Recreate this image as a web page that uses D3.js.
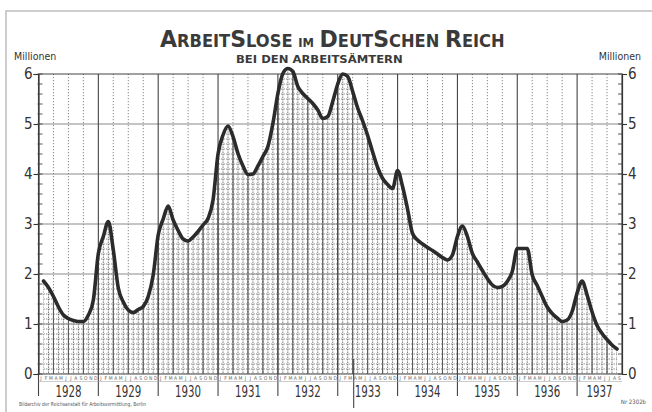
<!DOCTYPE html>
<html><head><meta charset="utf-8">
<script src="https://cdn.jsdelivr.net/npm/d3@7"></script>
<style>body{margin:0;background:#fff}</style>
</head><body>
<svg id="c" width="652" height="412"></svg>
<script>
// ---- data ----
const years = [1928,1929,1930,1931,1932,1933,1934,1935,1936,1937];
const monthInitials = ["J","F","M","A","M","J","J","A","S","O","N","D"];
const yTicks = [0,1,2,3,4,5,6];
const yMinorTicks = d3.range(0,6.01,0.2);
// Arbeitslose (Millionen), monthly from Jan 1928 to Aug 1937, month-end
const unemployed = [
  1.86,1.73,1.55,1.34,1.18,1.11,1.07,1.05,1.05,1.18,1.48,2.41, // 1928
  2.75,3.05,2.48,1.72,1.44,1.28,1.23,1.29,1.35,1.55,1.98,2.78, // 1929
  3.10,3.36,3.08,2.87,2.70,2.66,2.74,2.85,2.98,3.11,3.48,4.40, // 1930
  4.78,4.96,4.75,4.41,4.16,3.99,4.00,4.16,4.35,4.55,5.01,5.61, // 1931
  6.01,6.11,6.05,5.75,5.61,5.51,5.41,5.28,5.11,5.15,5.45,5.80, // 1932
  6.00,5.95,5.65,5.32,5.06,4.77,4.44,4.13,3.91,3.79,3.71,4.07, // 1933
  3.75,3.30,2.81,2.68,2.60,2.53,2.47,2.40,2.33,2.28,2.38,2.75, // 1934
  2.96,2.75,2.41,2.24,2.07,1.91,1.78,1.73,1.75,1.85,2.05,2.51, // 1935
  2.51,2.51,1.98,1.77,1.55,1.34,1.21,1.12,1.05,1.08,1.25,1.62, // 1936
  1.86,1.58,1.24,0.97,0.81,0.69,0.58,0.50                      // 1937
];
const axisMonths = 117;      // Jan 1928 .. Sep 1937
const markerMonth = 63.2;    // long marker line 1933
const titleParts = [["A",1],["RBEIT",0],["S",1],["LOSE",0],[" ",0],["IM",2],[" ",0],["D",1],["EUT",0],["S",1],["CHEN",0],[" ",0],["R",1],["EICH",0]];
const subtitle = "BEI DEN ARBEITSÄMTERN";
const unitLabel = "Millionen";
const sourceText = "Bildarchiv der Reichsanstalt für Arbeitsvermittlung, Berlin";
const numberText = "Nr 2302b";

// ---- layout ----
const svg = d3.select("#c");
const x = d3.scaleLinear().domain([0, axisMonths]).range([38.5, 622]);
const y = d3.scaleLinear().domain([0, 6]).range([374, 74]);
const ink = "#2b2b2b";
const fontNum = "'DejaVu Sans Condensed','Liberation Sans Narrow','DejaVu Sans',sans-serif";

svg.append("rect").attr("width",652).attr("height",412).attr("fill","#fff");
// frame
svg.append("path").attr("d","M6,412V11H652").attr("fill","none").attr("stroke","#bdbdbd").attr("stroke-width",1.5);

const pts = unemployed.map((v,i)=>({m:i+1,v}));
const curve = d3.curveMonotoneX;
const area = d3.area().x(d=>x(d.m)).y0(y(0)).y1(d=>y(d.v)).curve(curve);
const line = d3.line().x(d=>x(d.m)).y(d=>y(d.v)).curve(curve);

// clip for fill
svg.append("clipPath").attr("id","fillclip").append("path").attr("d",area(pts));

// quarter dotted lines (background grid)
const months = d3.range(0, axisMonths+1);
svg.append("g").selectAll("line").data(months.filter(m=>m%3===0 && m%12!==0 && m<axisMonths)).join("line")
  .attr("x1",d=>x(d)).attr("x2",d=>x(d)).attr("y1",y(6)).attr("y2",y(0))
  .attr("stroke","#777").attr("stroke-width",0.9).attr("stroke-dasharray","1.2,1.8");

// fill texture (clipped)
const fg = svg.append("g").attr("clip-path","url(#fillclip)");
fg.selectAll("line.vm").data(months).join("line").attr("class","vm")
  .attr("x1",d=>x(d)).attr("x2",d=>x(d)).attr("y1",y(6.2)).attr("y2",y(0))
  .attr("stroke","#6e6e6e").attr("stroke-width",1).attr("stroke-dasharray","1.4,1.1");
fg.selectAll("line.vq").data(months.filter(m=>m%3===0)).join("line").attr("class","vq")
  .attr("x1",d=>x(d)).attr("x2",d=>x(d)).attr("y1",y(6.2)).attr("y2",y(0))
  .attr("stroke","#555").attr("stroke-width",1);
fg.selectAll("line.hm").data(d3.range(0,6.2,0.1)).join("line").attr("class","hm")
  .attr("x1",x(0)).attr("x2",x(axisMonths)).attr("y1",d=>y(d)).attr("y2",d=>y(d))
  .attr("stroke","#7a7a7a").attr("stroke-width",0.9).attr("stroke-dasharray","1.4,1.1");

// horizontal integer grid
svg.append("g").selectAll("line").data(yTicks).join("line")
  .attr("x1",x(0)).attr("x2",x(axisMonths)).attr("y1",d=>y(d)).attr("y2",d=>y(d))
  .attr("stroke",d=>(d===0||d===6)?"#444":"#8a8a8a").attr("stroke-width",d=>(d===0||d===6)?1.2:1.1);

// year boundaries
const yearStarts = years.map((yr,i)=>i*12);
svg.append("g").selectAll("line").data(yearStarts.concat([axisMonths])).join("line")
  .attr("x1",d=>x(d)).attr("x2",d=>x(d)).attr("y1",y(6)).attr("y2",y(0))
  .attr("stroke","#444").attr("stroke-width",1.1);
// year separator ticks below axis
svg.append("g").selectAll("line").data(yearStarts).join("line")
  .attr("x1",d=>x(d)).attr("x2",d=>x(d)).attr("y1",y(0)).attr("y2",y(0)+22)
  .attr("stroke","#444").attr("stroke-width",1.1);
// marker line 1933
svg.append("line").attr("x1",x(markerMonth)).attr("x2",x(markerMonth)).attr("y1",y(0.3)).attr("y2",y(0)+34)
  .attr("stroke","#444").attr("stroke-width",1.1);

// month strip
const ms = svg.append("g");
ms.append("line").attr("x1",x(0)).attr("x2",x(axisMonths)).attr("y1",y(0)+7.5).attr("y2",y(0)+7.5).attr("stroke","#aaa").attr("stroke-width",0.6);
ms.selectAll("text").data(d3.range(0,axisMonths)).join("text")
  .attr("x",d=>x(d+0.5)).attr("y",y(0)+6.2).attr("text-anchor","middle")
  .attr("font-size",5).attr("font-family",fontNum).attr("fill","#666")
  .text(d=>monthInitials[d%12]);

// year labels
svg.append("g").selectAll("text").data(years).join("text")
  .attr("x",(d,i)=>x(Math.min(i*12+6, (i*12+axisMonths)/2))).attr("y",397)
  .attr("text-anchor","middle").attr("font-size",15).attr("font-family",fontNum).attr("fill","#333")
  .attr("textLength",26).attr("lengthAdjust","spacingAndGlyphs")
  .text(d=>d);

// y axes
const axL = d3.axisLeft(y).tickValues(yTicks).tickSize(5).tickPadding(1).tickFormat(d3.format("d"));
const axR = d3.axisRight(y).tickValues(yTicks).tickSize(5).tickPadding(1).tickFormat(d3.format("d"));
const gL = svg.append("g").attr("transform",`translate(${x(0)},0)`).call(axL);
const gR = svg.append("g").attr("transform",`translate(${x(axisMonths)},0)`).call(axR);
[gL,gR].forEach(g=>{
  g.select(".domain").attr("stroke","#333").attr("stroke-width",1.2);
  g.selectAll(".tick line").attr("stroke","#333").attr("stroke-width",1.1);
  g.selectAll(".tick text").attr("font-size",15).attr("font-family",fontNum).attr("fill","#333");
});
// minor ticks
svg.append("g").selectAll("line").data(yMinorTicks).join("line")
  .attr("x1",x(0)-1).attr("x2",x(0)+4).attr("y1",d=>y(d)).attr("y2",d=>y(d)).attr("stroke","#444").attr("stroke-width",0.9);
svg.append("g").selectAll("line").data(yMinorTicks).join("line")
  .attr("x1",x(axisMonths)-4).attr("x2",x(axisMonths)+1).attr("y1",d=>y(d)).attr("y2",d=>y(d)).attr("stroke","#444").attr("stroke-width",0.9);

// curve
svg.append("path").attr("d",line(pts)).attr("fill","none").attr("stroke",ink)
  .attr("stroke-width",3.6).attr("stroke-linejoin","round").attr("stroke-linecap","round");

// unit labels
svg.append("text").attr("x",14).attr("y",60).attr("font-size",10.5).attr("font-family",fontNum).attr("fill","#333").text(unitLabel);
svg.append("text").attr("x",641).attr("y",60).attr("text-anchor","end").attr("font-size",10.5).attr("font-family",fontNum).attr("fill","#333").text(unitLabel);

// title
const sizes = [17,23,12];
const t = svg.append("text").attr("y",47).attr("x",0).attr("font-family","'DejaVu Sans','Liberation Sans',sans-serif")
  .attr("font-weight","bold").attr("fill","#3a3a3a");
titleParts.forEach(([s,k])=>t.append("tspan").attr("font-size",sizes[k]).text(s==" "?"\u00a0":s));
let bb = t.node().getBBox();
t.attr("transform",`translate(160,0) scale(${345/bb.width},1) translate(${-bb.x},0)`);
const st = svg.append("text").attr("y",63.5).attr("x",0).attr("font-family","'DejaVu Sans','Liberation Sans',sans-serif")
  .attr("font-weight","bold").attr("font-size",11).attr("fill","#3a3a3a").text(subtitle);
bb = st.node().getBBox();
st.attr("transform",`translate(236,0) scale(${167/bb.width},1) translate(${-bb.x},0)`);

// footer texts
svg.append("text").attr("x",19).attr("y",406).attr("font-size",5.5).attr("font-family",fontNum).attr("fill","#555")
  .attr("textLength",127).attr("lengthAdjust","spacingAndGlyphs").text(sourceText);
svg.append("text").attr("x",646).attr("y",404).attr("text-anchor","end").attr("font-size",6).attr("font-family",fontNum).attr("fill","#555").text(numberText);
</script>
</body></html>
